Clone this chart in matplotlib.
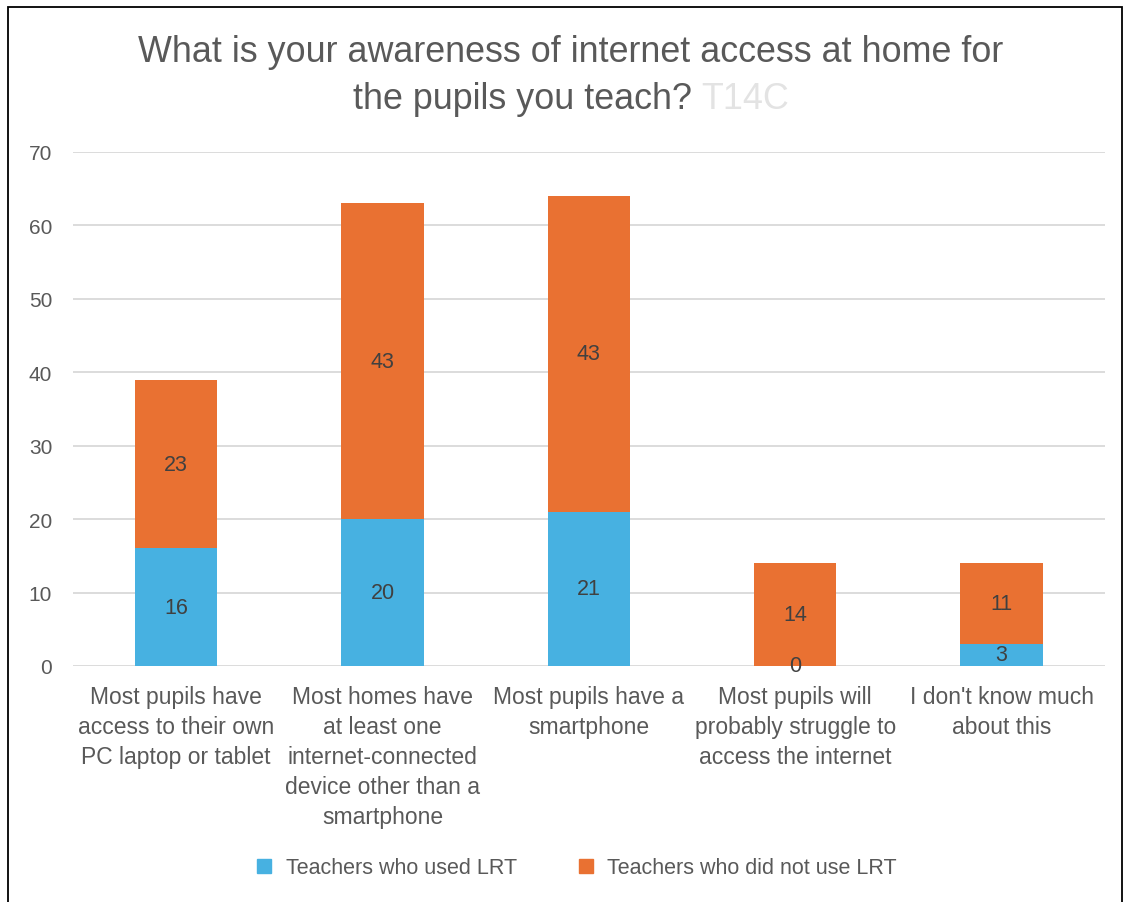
import numpy as np
import matplotlib
matplotlib.use("Agg")
from matplotlib import pyplot as plt
from matplotlib.patches import Rectangle
from matplotlib.lines import Line2D

# data
categories = [
    "Most pupils have\naccess to their own\nPC laptop or tablet",
    "Most homes have\nat least one\ninternet-connected\ndevice other than a\nsmartphone",
    "Most pupils have a\nsmartphone",
    "Most pupils will\nprobably struggle to\naccess the internet",
    "I don't know much\nabout this",
]
used_lrt = [16, 20, 21, 0, 3]
not_used_lrt = [23, 43, 43, 14, 11]
series_names = ["Teachers who used LRT", "Teachers who did not use LRT"]
y_ticks = [0, 10, 20, 30, 40, 50, 60, 70]

BLUE = "#47B1E1"
ORANGE = "#E97132"
GREY = "#595959"
plt.rcParams["font.family"] = ["Liberation Sans", "DejaVu Sans"]

fig = plt.figure(figsize=(11.33, 9.03), dpi=100)
ax = fig.add_axes([0.0644, 0.2614, 0.9106, 0.5692])

x = np.arange(len(categories))
b1 = ax.bar(x, used_lrt, width=0.4, color=BLUE, zorder=2)
b2 = ax.bar(x, not_used_lrt, width=0.4, bottom=used_lrt, color=ORANGE, zorder=2)

# data labels centred in each segment
for i in range(len(x)):
    ax.text(x[i], used_lrt[i] / 2, str(used_lrt[i]), ha="center", va="center",
            fontsize=15.5, color="#404040", zorder=3)
    ax.text(x[i], used_lrt[i] + not_used_lrt[i] / 2, str(not_used_lrt[i]),
            ha="center", va="center", fontsize=15.5, color="#404040", zorder=3)

ax.set_xlim(-0.5, len(categories) - 0.5)
ax.set_ylim(0, 70)
ax.set_yticks(y_ticks)
ax.yaxis.grid(True, color="#D9D9D9", linewidth=1.3, zorder=0)
ax.set_xticks(x)
ax.set_xticklabels(categories, fontsize=16.5, color=GREY, linespacing=1.38)
ax.tick_params(axis="y", labelsize=15, labelcolor=GREY, length=0, pad=15)
ax.tick_params(axis="x", length=0, pad=14)
for s in ax.spines.values():
    s.set_visible(False)

# title, second line ends with a light grey code
fig.text(0.504, 0.942, "What is your awareness of internet access at home for",
         ha="center", va="center", fontsize=25.8, color=GREY)
t_main = fig.text(0, 0.890, "the pupils you teach? ", ha="left", va="center",
                  fontsize=25.8, color=GREY)
t_code = fig.text(0, 0.890, "T14C", ha="left", va="center",
                  fontsize=25.8, color="#E3E3E3")
r = fig.canvas.get_renderer()
w_main = t_main.get_window_extent(r).width / fig.bbox.width
w_code = t_code.get_window_extent(r).width / fig.bbox.width
start = 0.504 - (w_main + w_code) / 2
t_main.set_x(start)
t_code.set_x(start + w_main)

# legend
handles = [Line2D([], [], marker="s", linestyle="", markersize=10, color=BLUE),
           Line2D([], [], marker="s", linestyle="", markersize=10, color=ORANGE)]
leg = fig.legend(handles, series_names, loc="center", bbox_to_anchor=(0.503, 0.038),
                 ncol=2, frameon=False, handletextpad=0.0, columnspacing=2.2,
                 prop={"size": 15.5})
for t in leg.get_texts():
    t.set_color(GREY)

# outer frame of the chart area
fig.patches.append(Rectangle((8 / 1133, -0.05), 1114 / 1133, 1 - 8 / 903 + 0.05,
                             transform=fig.transFigure, fill=False,
                             edgecolor="black", linewidth=1.3))

fig.savefig("out.png", dpi=100)
